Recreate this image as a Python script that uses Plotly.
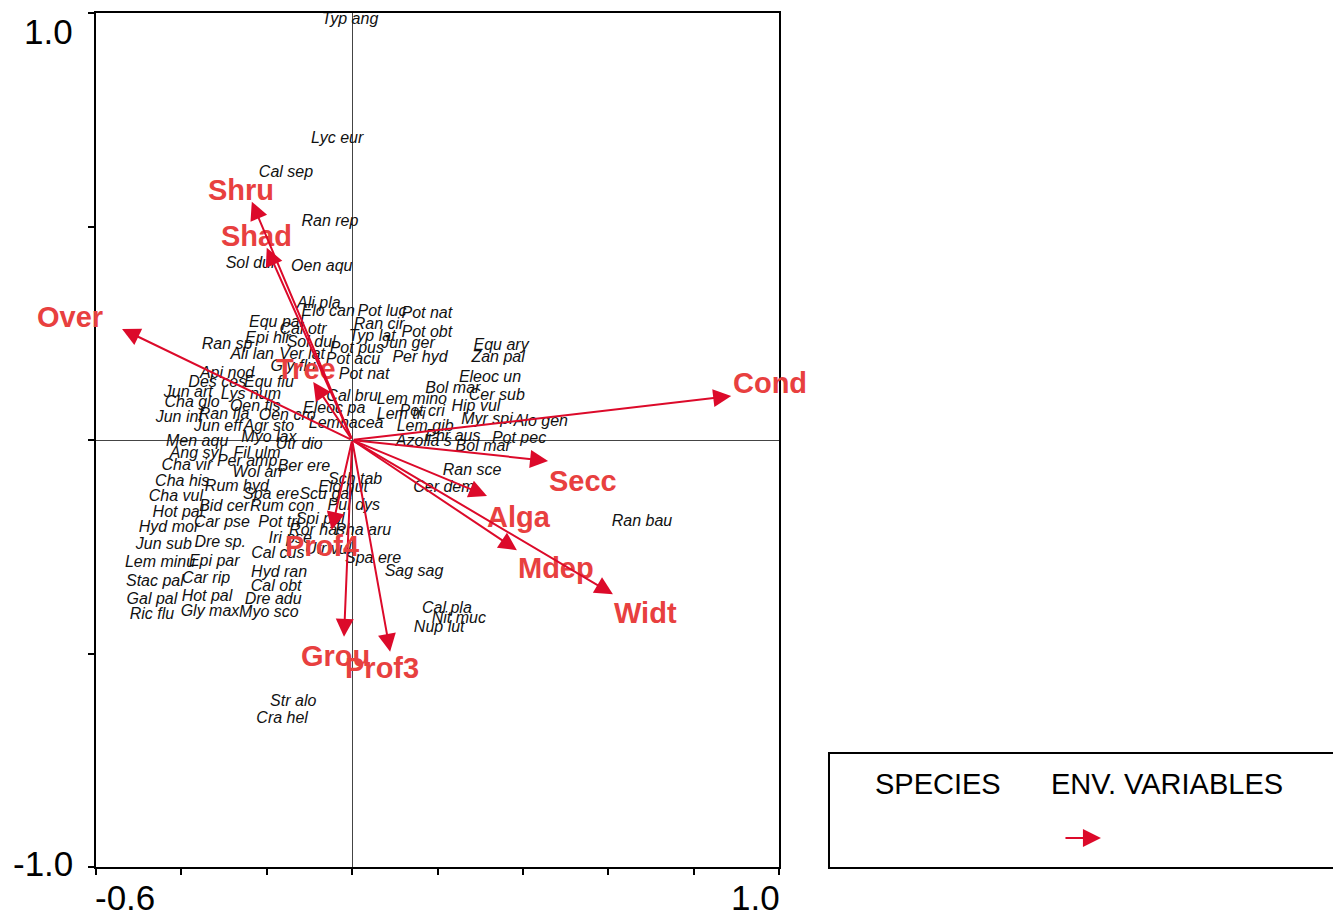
import plotly.graph_objects as go

# ---------------- data ----------------
species = ["Typ ang", "Lyc eur", "Cal sep", "Ran rep", "Sol dul", "Oen aqu", "Ali pla", "Elo can",
           "Pot luc", "Pot nat", "Equ pal", "Ran cir", "Cal otr", "Pot obt", "Epi hir", "Typ lat",
           "Jun ger", "Ran sp", "Sol dul", "Pot pus", "Ali lan", "Ver lat", "Pot acu", "Per hyd",
           "Gly flu", "Pot nat", "Api nod", "Equ ary", "Zan pal", "Des ces", "Equ flu", "Jun art",
           "Lys num", "Cha glo", "Oen fis", "Jun inf", "Ran fla", "Oen cro", "Eleoc pa", "Jun eff",
           "Agr sto", "Lemnacea", "Myo lax", "Men aqu", "Utr dio", "Ang syl", "Fil ulm", "Cal bru",
           "Lem mino", "Bol mar", "Eleoc un", "Cer sub", "Hip vul", "Pot cri", "Lem tri", "Myr spi",
           "Alo gen", "Lem gib", "Phr aus", "Pot pec", "Azolla s", "Bol mar", "Per amp", "Cha vir",
           "Ber ere", "Wol arr", "Sch tab", "Cha his", "Rum hyd", "Elo nut", "Cha vul", "Spa ere",
           "Scu gal", "Pul dys", "Bid cer", "Rum con", "Hot pal", "Pot tri", "Spi pol", "Car pse",
           "Hyd mor", "Ror has", "Pha aru", "Iri pse", "Utr vul", "Cal cus", "Spa ere", "Sag sag",
           "Hyd ran", "Cal obt", "Dre adu", "Myo sco", "Cal pla", "Nit muc", "Nup lut", "Ran sce",
           "Cer dem", "Ran bau", "Jun sub", "Dre sp.", "Lem minu", "Epi par", "Stac pal", "Car rip",
           "Gal pal", "Hot pal", "Ric flu", "Gly max", "Str alo", "Cra hel"]
species_x = [-0.005, -0.035, -0.155, -0.052, -0.239, -0.071, -0.078, -0.056,
             0.070, 0.175, -0.178, 0.063, -0.115, 0.175, -0.197, 0.047,
             0.131, -0.293, -0.096, 0.011, -0.234, -0.117, 0.002, 0.159,
             -0.138, 0.028, -0.293, 0.349, 0.342, -0.316, -0.195, -0.384,
             -0.237, -0.375, -0.227, -0.405, -0.300, -0.152, -0.042, -0.314,
             -0.195, -0.014, -0.195, -0.363, -0.124, -0.366, -0.223, 0.000,
             0.140, 0.236, 0.323, 0.339, 0.290, 0.164, 0.115, 0.316,
             0.442, 0.171, 0.236, 0.391, 0.168, 0.307, -0.246, -0.387,
             -0.113, -0.220, 0.007, -0.398, -0.270, -0.021, -0.413, -0.190,
             -0.061, 0.004, -0.300, -0.164, -0.408, -0.171, -0.075, -0.305,
             -0.429, -0.082, 0.026, -0.145, -0.056, -0.174, 0.049, 0.145,
             -0.171, -0.178, -0.185, -0.195, 0.222, 0.250, 0.204, 0.281,
             0.215, 0.679, -0.441, -0.309, -0.450, -0.323, -0.462, -0.342,
             -0.469, -0.340, -0.469, -0.333, -0.138, -0.164]
species_y = [0.984, 0.705, 0.625, 0.511, 0.412, 0.405, 0.319, 0.300,
             0.300, 0.295, 0.274, 0.269, 0.258, 0.251, 0.237, 0.241,
             0.225, 0.222, 0.227, 0.213, 0.199, 0.199, 0.187, 0.192,
             0.171, 0.152, 0.155, 0.220, 0.192, 0.133, 0.133, 0.110,
             0.105, 0.087, 0.077, 0.052, 0.059, 0.056, 0.073, 0.030,
             0.030, 0.037, 0.005, -0.005, -0.012, -0.033, -0.033, 0.101,
             0.094, 0.119, 0.145, 0.103, 0.077, 0.066, 0.059, 0.047,
             0.042, 0.030, 0.007, 0.002, -0.005, -0.016, -0.052, -0.061,
             -0.063, -0.077, -0.094, -0.098, -0.110, -0.112, -0.133, -0.129,
             -0.129, -0.155, -0.157, -0.157, -0.171, -0.194, -0.187, -0.194,
             -0.206, -0.213, -0.213, -0.232, -0.258, -0.267, -0.279, -0.309,
             -0.311, -0.344, -0.375, -0.405, -0.396, -0.419, -0.440, -0.073,
             -0.112, -0.192, -0.246, -0.241, -0.288, -0.286, -0.333, -0.326,
             -0.375, -0.368, -0.410, -0.403, -0.614, -0.653]

env_names = ["Cond", "Secc", "Alga", "Mdep", "Widt", "Prof3", "Grou", "Prof4", "Tree", "Shad", "Shru", "Over"]
env_x = [0.888, 0.459, 0.316, 0.386, 0.611, 0.089, -0.019, -0.048, -0.091, -0.200, -0.235, -0.539]
env_y = [0.103, -0.049, -0.131, -0.258, -0.361, -0.496, -0.461, -0.211, 0.136, 0.450, 0.558, 0.260]

x_tick_labels = ["-0.6", "1.0"]
y_tick_labels = ["-1.0", "1.0"]
legend_titles = ["SPECIES", "ENV. VARIABLES"]

# ---------------- layout / style ----------------
# label offsets (pixels) of environmental labels relative to arrow tips
env_label_shift = [(39, 13), (35, -20), (32, -21), (39, -18), (33, -19), (-8, -16),
                   (-9, -19), (-10, -16), (-7, 13), (-10, 12), (-11, 12), (-52, 12)]

FONT = "Arial, Liberation Sans, sans-serif"
ARROW_COL = "#dc0a2a"
LABEL_COL = "#e8403f"

fig = go.Figure()

fig.add_trace(go.Scatter(
    x=species_x, y=species_y, mode="text", text=species,
    textposition="middle center",
    textfont=dict(family=FONT, size=16, color="#111111", style="italic"),
    hoverinfo="text", showlegend=False, cliponaxis=False,
))

annotations = []
for name, ex, ey, (sx, sy) in zip(env_names, env_x, env_y, env_label_shift):
    annotations.append(dict(
        x=ex, y=ey, xref="x", yref="y", ax=0, ay=0, axref="x", ayref="y",
        text="", showarrow=True, arrowhead=2, arrowsize=1.8, arrowwidth=2,
        arrowcolor=ARROW_COL, standoff=0, startstandoff=0,
    ))
    annotations.append(dict(
        x=ex, y=ey, xref="x", yref="y", text=name, showarrow=False,
        xshift=sx, yshift=sy, xanchor="center", yanchor="middle",
        font=dict(family=FONT, size=29, color=LABEL_COL, weight="bold"),
    ))

# axis end labels
annotations += [
    dict(x=-0.6, y=0, xref="x", yref="paper", text=x_tick_labels[0], showarrow=False,
         xanchor="left", yanchor="middle", yshift=-30, xshift=-3,
         font=dict(family=FONT, size=35, color="black")),
    dict(x=1.0, y=0, xref="x", yref="paper", text=x_tick_labels[1], showarrow=False,
         xanchor="right", yanchor="middle", yshift=-30, xshift=3,
         font=dict(family=FONT, size=35, color="black")),
    dict(x=0, y=1.0, xref="paper", yref="y", text=y_tick_labels[1], showarrow=False,
         xanchor="right", yanchor="middle", xshift=-21, yshift=-18,
         font=dict(family=FONT, size=35, color="black")),
    dict(x=0, y=-1.0, xref="paper", yref="y", text=y_tick_labels[0], showarrow=False,
         xanchor="right", yanchor="middle", xshift=-21, yshift=4,
         font=dict(family=FONT, size=35, color="black")),
]

# legend box content
annotations += [
    dict(x=1.2328, y=0.0972, xref="paper", yref="paper", text=legend_titles[0], showarrow=False,
         xanchor="center", yanchor="middle", font=dict(family=FONT, size=29, color="black")),
    dict(x=1.5681, y=0.0972, xref="paper", yref="paper", text=legend_titles[1], showarrow=False,
         xanchor="center", yanchor="middle", font=dict(family=FONT, size=29, color="black")),
    dict(x=1.4714, y=0.034, xref="paper", yref="paper", ax=-37, ay=0, text="",
         showarrow=True, arrowhead=2, arrowsize=1.8, arrowwidth=2, arrowcolor=ARROW_COL),
]

shapes = [
    dict(type="rect", xref="paper", yref="paper", x0=1.0732, x1=1.84, y0=-0.0012, y1=0.1335,
         line=dict(color="black", width=2), fillcolor="rgba(0,0,0,0)"),
]

axis_common = dict(showgrid=False, showticklabels=False, ticks="outside", ticklen=6,
                   tickwidth=1.5, tickcolor="black", showline=True, linecolor="black",
                   linewidth=2, mirror=True, zeroline=True, zerolinecolor="#444444",
                   zerolinewidth=1)

fig.update_layout(
    width=1333, height=913,
    margin=dict(l=96, r=554, t=13, b=46, pad=0),
    paper_bgcolor="white", plot_bgcolor="white",
    xaxis=dict(range=[-0.6, 1.0], dtick=0.2, tick0=-0.6, **axis_common),
    yaxis=dict(range=[-1.0, 1.0], dtick=0.5, tick0=-1.0, **axis_common),
    annotations=annotations, shapes=shapes, showlegend=False,
)

fig.write_html("out.html", config={"displayModeBar": False},
               post_script="document.body.style.margin='0';document.body.style.overflow='hidden';")
